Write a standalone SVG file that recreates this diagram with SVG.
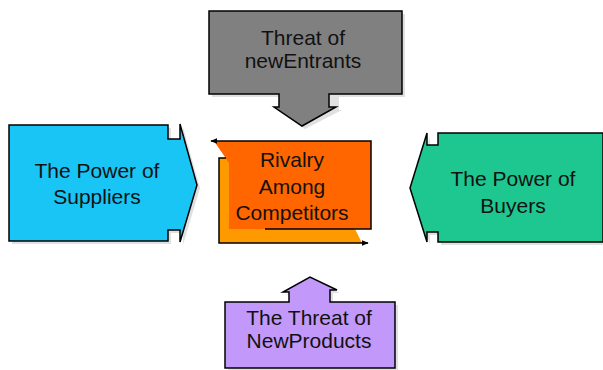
<svg xmlns="http://www.w3.org/2000/svg" width="603" height="370" viewBox="0 0 603 370">
  <style>
    .shape { stroke: #000; stroke-width: 1.5; stroke-linejoin: miter; }
    .shadow { fill: #000; opacity: 0.12; }
    .label { font-family: "Liberation Sans", Arial, sans-serif; font-size: 21px; fill: #111; text-anchor: middle; }
    .flow { fill: none; stroke: #000; stroke-width: 1.5; }
  </style>
  <defs>
    <marker id="head" viewBox="0 0 10 10" refX="9" refY="5" markerWidth="7" markerHeight="7" orient="auto-start-reverse" markerUnits="userSpaceOnUse">
      <path d="M0,1 L10,5 L0,9 Z" fill="#000"/>
    </marker>
  </defs>
  <rect width="603" height="370" fill="#fff"/>

  <!-- Threat of new entrants: box with down arrow -->
  <g id="entrants">
    <path class="shadow" d="M212,14 H405 V97 H339 V110 H342 L305,129 L277,110 H282 V97 H212 Z"/>
    <path class="shape" fill="#808080" d="M209,11 H402 V94 H329 V107 H336 L302,126 L274,107 H279 V94 H209 Z"/>
    <text class="label" x="303" y="45">Threat of</text>
    <text class="label" x="303" y="68">newEntrants</text>
  </g>

  <!-- Power of suppliers: box pointing right -->
  <g id="suppliers">
    <path class="shadow" d="M12,128 H171 V142 H183 V127 L200,188 L183,245 V233 H171 V244 H12 Z"/>
    <path class="shape" fill="#19C5F5" d="M9,125 H168 V139 H180 V124 L197,185 L180,242 V230 H168 V241 H9 Z"/>
    <text class="label" x="97" y="178">The Power of</text>
    <text class="label" x="97" y="204">Suppliers</text>
  </g>

  <!-- Power of buyers: box pointing left -->
  <g id="buyers">
    <path class="shadow" d="M605,136 H441 V148 H430 V136 L413,191 L430,245 V235 H441 V245 H605 Z"/>
    <path class="shape" fill="#1EC690" d="M603,133 H438 V145 H427 V133 L410,188 L427,242 V232 H438 V242 H603 Z"/>
    <text class="label" x="513" y="186">The Power of</text>
    <text class="label" x="513" y="213">Buyers</text>
  </g>

  <!-- Rivalry among competitors: two circling arrows -->
  <g id="rivalry">
    <path fill="#FF9900" d="M219,158 H229 V229 H355 L362,243 H219 Z"/>
    <path fill="#FF6600" d="M214,141 H371 V229 H229 V163 Z"/>
    <path class="flow" d="M265,229 H371 V141 H211" marker-end="url(#head)"/>
    <path class="flow" d="M226,158 H219 V243 H368" marker-end="url(#head)"/>
    <text class="label" x="292" y="167">Rivalry</text>
    <text class="label" x="292" y="194">Among</text>
    <text class="label" x="292" y="220">Competitors</text>
  </g>

  <!-- Threat of new products: box with up arrow -->
  <g id="products">
    <path class="shadow" d="M228,305 H292 V295 H286 L313,280 L340,293 H333 V305 H398 V372 H228 Z"/>
    <path class="shape" fill="#C299FA" d="M225,302 H289 V292 H283 L310,277 L337,290 H330 V302 H395 V368 H225 Z"/>
    <text class="label" x="309" y="325">The Threat of</text>
    <text class="label" x="309" y="348">NewProducts</text>
  </g>
</svg>
